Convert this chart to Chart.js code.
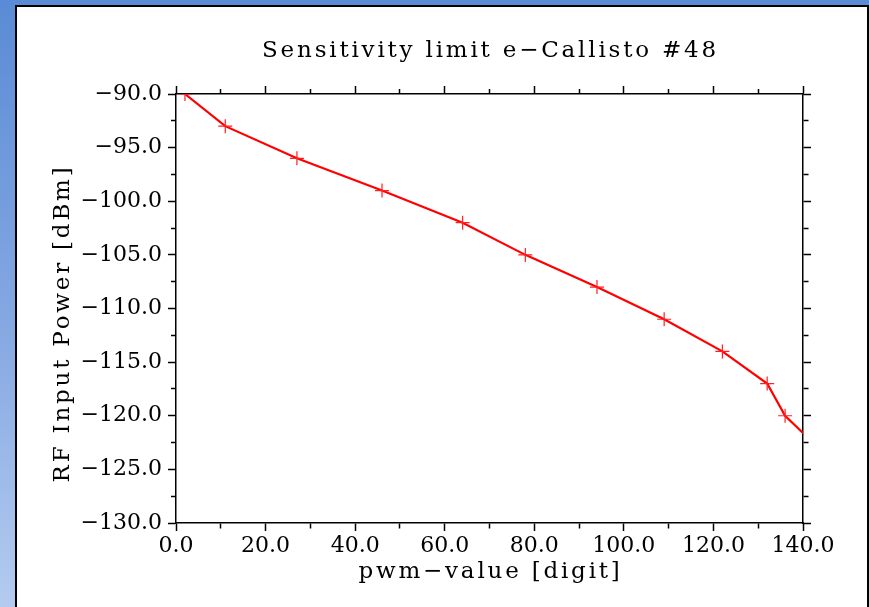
<!DOCTYPE html>
<html>
<head>
<meta charset="utf-8">
<title>Sensitivity limit e-Callisto #48</title>
<script src="https://cdn.jsdelivr.net/npm/chart.js@4.4.1/dist/chart.umd.min.js"></script>
<style>
  html, body { margin: 0; padding: 0; }
  body {
    width: 869px;
    height: 607px;
    overflow: hidden;
    background: linear-gradient(to bottom, #5a8bd6 0%, #86a9e2 55%, #b4cbef 100%);
  }
  #wrap { position: relative; width: 869px; height: 607px; }
  #panel {
    position: absolute;
    left: 15px;
    top: 5px;
    width: 850px;
    height: 610px;
    background: #fff;
    border: 2px solid #000;
    border-bottom: none;
  }
  #chart { position: absolute; left: 0; top: 0; }
</style>
</head>
<body>
<div id="wrap">
  <div id="panel"></div>
  <canvas id="chart" width="869" height="607"></canvas>
</div>
<script>
const pwmValues = [2, 11, 27, 46, 64, 78, 94, 109, 122, 132, 136, 146];
const powerDbm = [-90, -93, -96, -99, -102, -105, -108, -111, -114, -117, -120, -124];

const xRange = [0, 140];
const yRange = [-130, -90];
const xMajorStep = 20;
const yMajorStep = 5;

const titleText = 'Sensitivity limit e\u2212Callisto #48';
const xTitle = 'pwm\u2212value [digit]';
const yTitle = 'RF Input Power [dBm]';

const FONT = "'DejaVu Serif', 'Liberation Serif', serif";

// minor ticks are drawn shorter using a dash pattern on the tick line
function isMajor(value, step) {
  return Math.abs(value / step - Math.round(value / step)) < 1e-6;
}
function tickDash(step, outerFirst) {
  return ctx => {
    const v = ctx.tick ? ctx.tick.value : 0;
    if (isMajor(v, step)) return [];
    return outerFirst ? [0, 3, 5, 30] : [5, 30];
  };
}

function gridOpts(step, outerFirst) {
  return {
    drawOnChartArea: false,
    drawTicks: true,
    tickLength: 8,
    tickColor: '#000',
    tickWidth: 1.5,
    tickBorderDash: tickDash(step, outerFirst)
  };
}

// titles are drawn with wide letter spacing, like the original plot font
const spacedTitles = {
  id: 'spacedTitles',
  afterDraw(chart) {
    const ctx = chart.ctx;
    const area = chart.chartArea;
    const cx = (area.left + area.right) / 2;
    ctx.save();
    ctx.fillStyle = '#000';
    ctx.font = "23px " + FONT;
    ctx.letterSpacing = '2.8px';
    ctx.textAlign = 'center';
    ctx.textBaseline = 'middle';
    ctx.fillText(titleText, cx + 1, area.top - 43);
    ctx.fillText(xTitle, cx + 1, area.bottom + 49);
    ctx.translate(area.left - 113, (area.top + area.bottom) / 2 + 16);
    ctx.rotate(-Math.PI / 2);
    ctx.fillText(yTitle, 1, 0);
    ctx.restore();
  }
};

const data = pwmValues.map((x, i) => ({ x: x, y: powerDbm[i] }));

new Chart(document.getElementById('chart').getContext('2d'), {
  type: 'line',
  data: {
    datasets: [{
      data: data,
      borderColor: '#ff0000',
      borderWidth: 2.2,
      pointStyle: 'cross',
      pointRadius: 7,
      pointBorderWidth: 1.2,
      pointBorderColor: '#ff2020',
      pointBackgroundColor: '#ff0000',
      fill: false,
      tension: 0,
      clip: 0
    }]
  },
  options: {
    responsive: false,
    animation: false,
    events: [],
    layout: { padding: { left: 48, right: 58, top: 86, bottom: 22 } },
    plugins: {
      legend: { display: false },
      tooltip: { enabled: false },
      title: { display: false }
    },
    scales: {
      x: {
        type: 'linear',
        position: 'bottom',
        min: xRange[0],
        max: xRange[1],
        grid: gridOpts(xMajorStep, false),
        border: { display: true, color: '#000', width: 1.5 },
        ticks: {
          stepSize: xMajorStep / 2,
          autoSkip: false,
          maxRotation: 0,
          padding: 2,
          color: '#000',
          font: { family: FONT, size: 22 },
          callback: v => isMajor(v, xMajorStep) ? v.toFixed(1) : ''
        },
        afterFit: scale => { scale.height = 62; }
      },
      xTop: {
        type: 'linear',
        position: 'top',
        min: xRange[0],
        max: xRange[1],
        grid: gridOpts(xMajorStep, true),
        border: { display: true, color: '#000', width: 1.5 },
        ticks: { display: false, stepSize: xMajorStep / 2, autoSkip: false },
        afterFit: scale => { scale.height = 8; }
      },
      y: {
        type: 'linear',
        position: 'left',
        min: yRange[0],
        max: yRange[1],
        grid: gridOpts(yMajorStep, true),
        border: { display: true, color: '#000', width: 1.5 },
        ticks: {
          stepSize: yMajorStep / 2,
          autoSkip: false,
          padding: 6,
          color: '#000',
          font: { family: FONT, size: 22 },
          callback: v => isMajor(v, yMajorStep) ? (v < 0 ? '\u2212' : '') + Math.abs(v).toFixed(1) : ''
        },
        afterFit: scale => { scale.width = 128; }
      },
      yRight: {
        type: 'linear',
        position: 'right',
        min: yRange[0],
        max: yRange[1],
        grid: gridOpts(yMajorStep, false),
        border: { display: true, color: '#000', width: 1.5 },
        ticks: { display: false, stepSize: yMajorStep / 2, autoSkip: false },
        afterFit: scale => { scale.width = 8; }
      }
    }
  },
  plugins: [spacedTitles]
});
</script>
</body>
</html>
